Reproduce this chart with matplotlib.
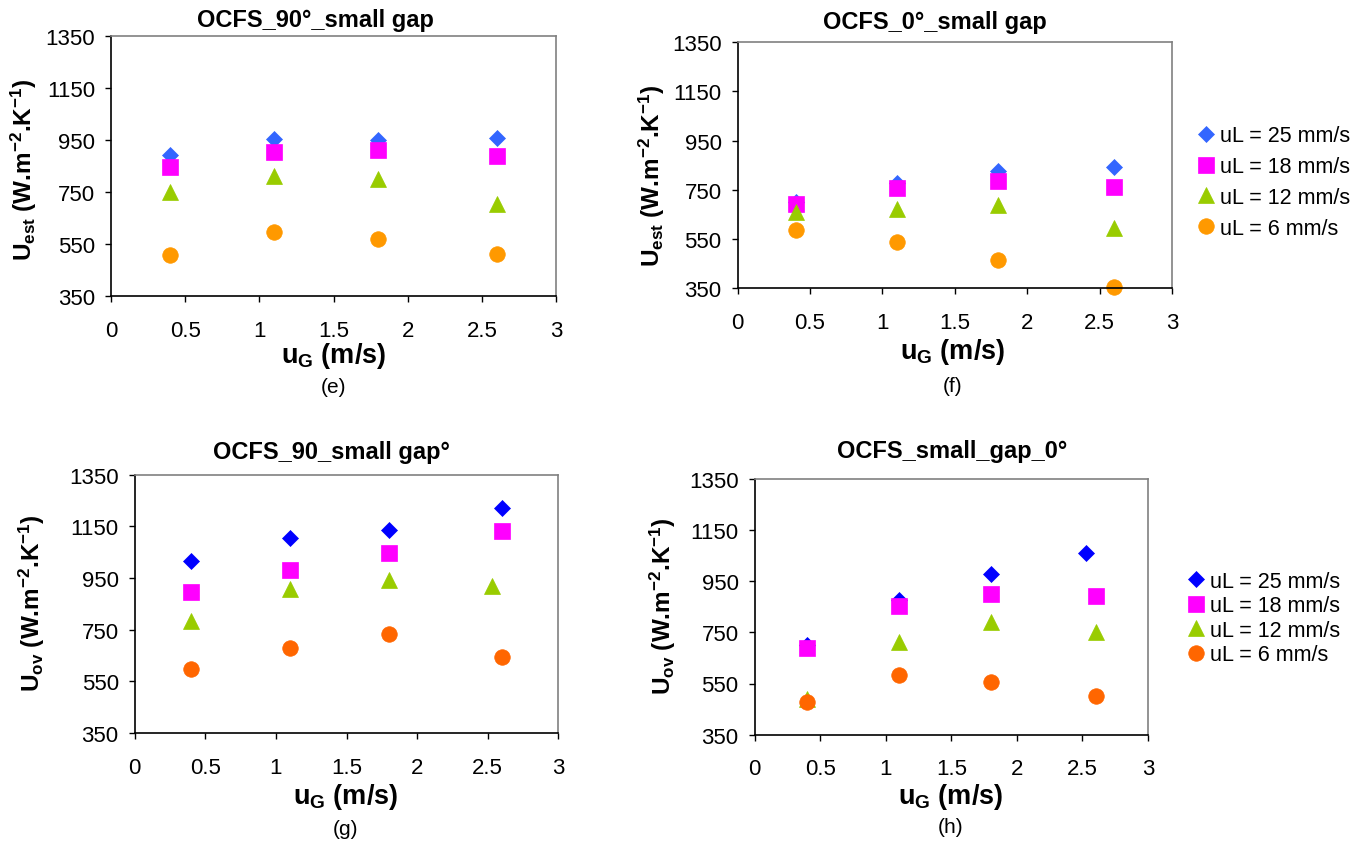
import matplotlib
matplotlib.use("Agg")
import matplotlib.pyplot as plt

# ---------------- data ----------------
x_ticks = [0, 0.5, 1, 1.5, 2, 2.5, 3]
x_tick_labels = ["0", "0.5", "1", "1.5", "2", "2.5", "3"]
y_ticks = [350, 550, 750, 950, 1150, 1350]
y_tick_labels = ["350", "550", "750", "950", "1150", "1350"]

series_labels = ["uL = 25 mm/s", "uL = 18 mm/s", "uL = 12 mm/s", "uL = 6 mm/s"]

# (e) OCFS_90°_small gap  -- U_est
e_x = [0.4, 1.1, 1.8, 2.6]
e_25 = [891, 952, 949, 957]
e_18 = [847, 905, 910, 888]
e_12 = [749, 811, 801, 704]
e_6 = [507, 596, 569, 510]

# (f) OCFS_0°_small gap  -- U_est
f_x = [0.4, 1.1, 1.8, 2.6]
f_25 = [700, 776, 826, 843]
f_18 = [690, 755, 785, 762]
f_12 = [659, 672, 687, 594]
f_6 = [588, 539, 464, 354]

# (g) OCFS_90_small gap°  -- U_ov
g_x = [0.4, 1.1, 1.8, 2.6]
g_x12 = [0.4, 1.1, 1.8, 2.53]
g_25 = [1017, 1105, 1137, 1220]
g_18 = [896, 981, 1048, 1133]
g_12 = [785, 909, 941, 920]
g_6 = [598, 678, 735, 643]

# (h) OCFS_small_gap_0°  -- U_ov
h_x = [0.4, 1.1, 1.8, 2.6]
h_x25 = [0.4, 1.1, 1.8, 2.53]
h_25 = [700, 875, 979, 1061]
h_18 = [689, 854, 901, 891]
h_12 = [488, 714, 790, 753]
h_6 = [478, 585, 557, 501]

# ---------------- style ----------------
W, H = 1364, 845
plt.rcParams["font.family"] = ["Liberation Sans", "DejaVu Sans"]
plt.rcParams["mathtext.fontset"] = "custom"
plt.rcParams["mathtext.rm"] = "Liberation Sans:bold"
plt.rcParams["mathtext.it"] = "Liberation Sans:bold"
plt.rcParams["mathtext.bf"] = "Liberation Sans:bold"
plt.rcParams["mathtext.default"] = "regular"

top_colors = ["#3366FF", "#FF00FF", "#99CC00", "#FF9900"]
bot_colors = ["#0000FF", "#FF00FF", "#99CC00", "#FF6600"]
markers = ["D", "s", "^", "o"]
msizes = [8.1, 11.0, 11.3, 11.2]

fig = plt.figure(figsize=(W / 100, H / 100), dpi=100)


def rect(l, r, t, b):
    return [l / W, 1 - b / H, (r - l) / W, (b - t) / H]


def ftext(x, y, s, **kw):
    fig.text(x / W, 1 - y / H, s, ha="center", va="center", **kw)


def make_axes(r, xs_list, ys_list, colors):
    ax = fig.add_axes(r)
    handles = []
    for xs, ys, c, m, ms, lab in zip(xs_list, ys_list, colors, markers, msizes, series_labels):
        h, = ax.plot(xs, ys, linestyle="none", marker=m, markersize=ms,
                     markerfacecolor=c, markeredgecolor=c, markeredgewidth=0.5,
                     label=lab, clip_on=False)
        handles.append(h)
    ax.set_xlim(0, 3)
    ax.set_ylim(350, 1350)
    ax.set_xticks(x_ticks)
    ax.set_xticklabels(x_tick_labels)
    ax.set_yticks(y_ticks)
    ax.set_yticklabels(y_tick_labels)
    ax.tick_params(axis="x", direction="out", length=4.5, width=1, pad=12.5, labelsize=16)
    ax.tick_params(axis="y", direction="out", length=4.5, width=1, pad=7, labelsize=16)
    for s in ("left", "bottom"):
        ax.spines[s].set_color("black")
        ax.spines[s].set_linewidth(1.2)
    for s in ("top", "right"):
        ax.spines[s].set_color("#808080")
        ax.spines[s].set_linewidth(1.2)
    return ax, handles


ax_e, _ = make_axes(rect(111, 556, 37, 297), [e_x, e_x, e_x, e_x], [e_25, e_18, e_12, e_6], top_colors)
ax_f, hf = make_axes(rect(737.6, 1172, 43.3, 289), [f_x, f_x, f_x, f_x], [f_25, f_18, f_12, f_6], top_colors)
ax_g, _ = make_axes(rect(134.7, 558.4, 475.7, 734), [g_x, g_x, g_x12, g_x], [g_25, g_18, g_12, g_6], bot_colors)
ax_h, hh = make_axes(rect(754.6, 1148, 479.7, 735.7), [h_x25, h_x, h_x, h_x], [h_25, h_18, h_12, h_6], bot_colors)

# titles
ftext(315, 20, "OCFS_90°_small gap", fontsize=17, fontweight="bold")
ftext(935, 22, "OCFS_0°_small gap", fontsize=17, fontweight="bold")
ftext(331, 453, "OCFS_90_small gap°", fontsize=17, fontweight="bold")
ftext(952, 452, "OCFS_small_gap_0°", fontsize=17, fontweight="bold")

# x labels
xl = "u$_{G}$ (m/s)"
for (x, y) in [(334, 356), (953, 352), (346, 797), (951, 797)]:
    ftext(x, y, xl, fontsize=19.5, fontweight="bold")

# y labels
yl_est = "U$_{est}$ (W.m$^{-2}$.K$^{-1}$)"
yl_ov = "U$_{ov}$ (W.m$^{-2}$.K$^{-1}$)"
ftext(24, 170, yl_est, fontsize=17.5, fontweight="bold", rotation=90)
ftext(652, 176, yl_est, fontsize=17.5, fontweight="bold", rotation=90)
ftext(32, 603, yl_ov, fontsize=17.5, fontweight="bold", rotation=90)
ftext(663, 606, yl_ov, fontsize=17.5, fontweight="bold", rotation=90)

# sub captions
ftext(334, 388, "(e)", fontsize=15)
ftext(953, 387, "(f)", fontsize=15)
ftext(346, 830, "(g)", fontsize=15)
ftext(951, 828, "(h)", fontsize=15)

# legends
fig.legend(handles=hf, loc="center left", bbox_to_anchor=(1197 / W, 1 - 183 / H),
           frameon=False, fontsize=15.5, handlelength=0.8, handletextpad=0.25,
           labelspacing=0.45, borderpad=0, borderaxespad=0)
fig.legend(handles=hh, loc="center left", bbox_to_anchor=(1187 / W, 1 - 619 / H),
           frameon=False, fontsize=15.5, handlelength=0.8, handletextpad=0.25,
           labelspacing=0.17, borderpad=0, borderaxespad=0)

fig.savefig("out.png", dpi=100)
